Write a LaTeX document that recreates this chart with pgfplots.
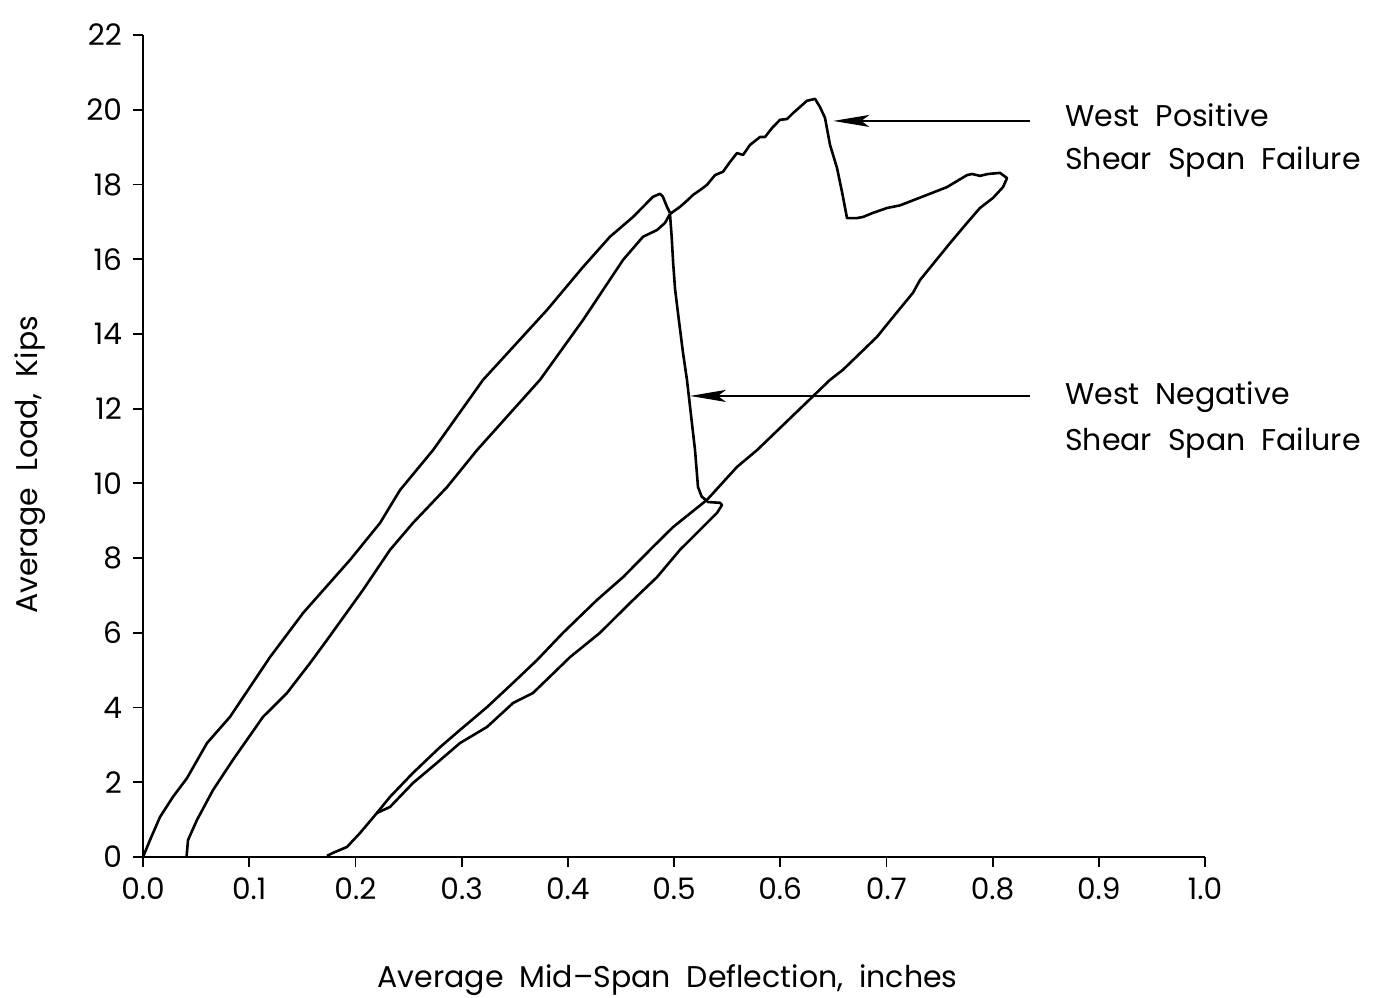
\documentclass[border=0pt]{standalone}
\usepackage{pgfplots}
\pgfplotsset{compat=1.18}
\usepackage{fontspec}
\setmainfont{Poppins}
\usetikzlibrary{arrows.meta}
\begin{document}
\begin{tikzpicture}
\begin{axis}[
  scale only axis,
  width=531pt, height=411pt,
  xmin=0, xmax=1, ymin=0, ymax=22,
  axis x line*=bottom, axis y line*=left,
  axis line style={line width=1pt,-},
  tick align=outside,
  major tick length=5pt,
  tick style={line width=0.9pt,black},
  xtick={0,0.1,...,1.0},
  ytick={0,2,...,22},
  minor tick num=0,
  xticklabel={\pgfmathprintnumber[fixed,fixed zerofill,precision=1]{\tick}},
  /pgf/number format/assume math mode=true,
  tick label style={font=\fontsize{14.8}{17}\selectfont},
  xticklabel style={yshift=-2pt},
  yticklabel style={xshift=-2pt},
  clip=false,
  cycle list={{black}},
  every axis plot/.append style={line width=1.3pt,black,no markers,line join=round},
]
% first loading
\addplot[black] coordinates {
(0.000,0.00) (0.0066,0.455) (0.016,1.07) (0.0282,1.61) (0.0414,2.11) (0.0603,3.05)
(0.0819,3.75) (0.1196,5.35) (0.1507,6.53) (0.1949,7.95) (0.2232,8.94) (0.2420,9.82)
(0.2731,10.89) (0.3202,12.77) (0.3804,14.64) (0.4143,15.79) (0.4397,16.60) (0.4614,17.13)
(0.4802,17.67) (0.4868,17.75) (0.4896,17.67) (0.4934,17.40) (0.4962,17.24)
};
% unload / reload
\addplot[black] coordinates {
(0.041,0.00) (0.0424,0.455) (0.0508,0.99) (0.0659,1.79) (0.0847,2.60) (0.1130,3.75)
(0.1356,4.39) (0.1573,5.19) (0.1733,5.81) (0.2072,7.15) (0.2326,8.22) (0.2542,8.94)
(0.2863,9.90) (0.3145,10.89) (0.3738,12.77) (0.4143,14.37) (0.4520,15.98) (0.4708,16.60)
(0.4840,16.78) (0.4915,16.97) (0.4962,17.21)
};
% positive failure branch and unloading
\addplot[black] coordinates {
(0.4962,17.21) (0.5056,17.40) (0.5132,17.59) (0.5179,17.72) (0.5245,17.85) (0.5311,17.99)
(0.5386,18.25) (0.5461,18.34) (0.5527,18.60) (0.5593,18.84) (0.5650,18.79) (0.5716,19.06)
(0.5810,19.27) (0.5857,19.27) (0.5923,19.51) (0.5998,19.73) (0.6064,19.75) (0.6121,19.91)
(0.6252,20.24) (0.6328,20.29) (0.6375,20.07) (0.6422,19.78) (0.6469,19.06) (0.6535,18.44)
(0.6582,17.80) (0.6629,17.10) (0.6723,17.10) (0.6780,17.13) (0.6874,17.24) (0.7006,17.37)
(0.7128,17.44) (0.7382,17.72) (0.7571,17.93) (0.7759,18.25) (0.7806,18.28) (0.7881,18.23)
(0.7957,18.28) (0.8070,18.31) (0.8136,18.17) (0.8098,17.93) (0.8004,17.64) (0.7881,17.37)
(0.7759,16.97) (0.7599,16.43) (0.7316,15.44) (0.7250,15.10) (0.7062,14.45) (0.6911,13.92)
(0.6591,13.04) (0.6469,12.77) (0.5782,10.89) (0.5593,10.44) (0.5311,9.56) (0.4991,8.83)
(0.4802,8.30) (0.4520,7.49) (0.4275,6.88) (0.3955,6.00) (0.3710,5.27) (0.3484,4.66)
(0.3239,4.01) (0.2985,3.40) (0.2797,2.94) (0.2542,2.25) (0.2326,1.61) (0.2203,1.18)
(0.2043,0.64) (0.1921,0.27) (0.1789,0.11) (0.1733,0.03)
};
% negative failure drop and unloading
\addplot[black] coordinates {
(0.4962,17.21) (0.4978,16.60) (0.4992,15.90) (0.5010,15.20) (0.5040,14.50) (0.5085,13.49)
(0.5122,12.77) (0.5198,10.89) (0.5226,9.90) (0.5260,9.65) (0.5320,9.50) (0.5433,9.48)
(0.5452,9.42) (0.5405,9.21) (0.5056,8.22) (0.4840,7.49) (0.4586,6.80) (0.4303,6.00)
(0.4021,5.35) (0.3898,5.01) (0.3672,4.39) (0.3484,4.12) (0.3239,3.48) (0.2985,3.05)
(0.2768,2.52) (0.2542,1.98) (0.2326,1.34) (0.2203,1.18)
};
% annotations
\draw[line width=0.75pt,-{Stealth[length=18pt,width=6pt,inset=4pt]}] (axis cs:0.835,19.70) -- (axis cs:0.650,19.70);
\draw[line width=0.75pt,-{Stealth[length=18pt,width=6pt,inset=4pt]}] (axis cs:0.835,12.34) -- (axis cs:0.515,12.34);
\node[anchor=base west,inner sep=0pt,font=\fontsize{15}{18}\selectfont] at (axis cs:0.868,19.54) {West\ \ Positive};
\node[anchor=base west,inner sep=0pt,font=\fontsize{15}{18}\selectfont] at (axis cs:0.868,18.39) {Shear\ \ Span\ \ Failure};
\node[anchor=base west,inner sep=0pt,font=\fontsize{15}{18}\selectfont] at (axis cs:0.868,12.10) {West\ \ Negative};
\node[anchor=base west,inner sep=0pt,font=\fontsize{15}{18}\selectfont] at (axis cs:0.868,10.89) {Shear\ \ Span\ \ Failure};
% axis titles
\node[anchor=base,inner sep=0pt,font=\fontsize{15}{18}\selectfont] at ([yshift=-65pt]axis cs:0.494,0) {Average\ \ Mid--Span\ \ Deflection,\ \ inches};
\node[rotate=90,anchor=center,inner sep=0pt,font=\fontsize{15}{18}\selectfont] at ([xshift=-56.5pt]rel axis cs:0,0.477) {Average\ \ Load,\ \ Kips};
\end{axis}
\pgfresetboundingbox
\path[use as bounding box] (-71.5pt,-70pt) rectangle (615.5pt,428.5pt);
\end{tikzpicture}
\end{document}
